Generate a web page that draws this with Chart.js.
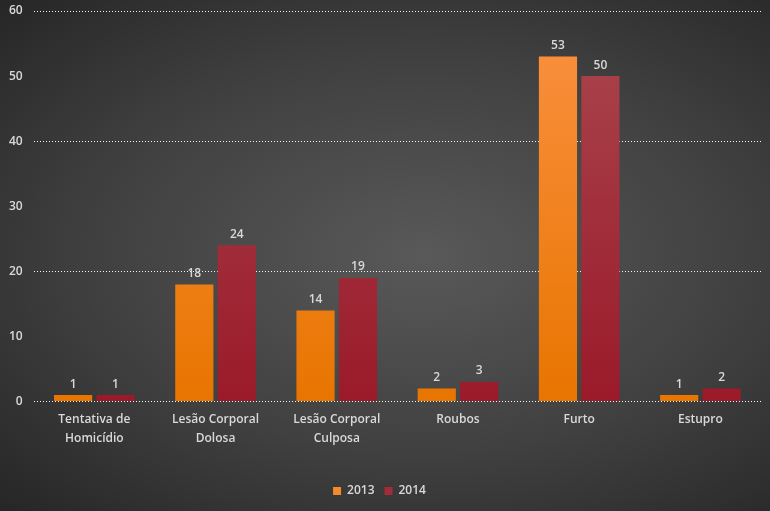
<!DOCTYPE html>
<html>
<head>
<meta charset="utf-8">
<script src="https://cdn.jsdelivr.net/npm/chart.js@4/dist/chart.umd.min.js"></script>
<style>
  html, body { margin: 0; padding: 0; }
  body {
    width: 770px; height: 511px; overflow: hidden;
    background: radial-gradient(ellipse at 55% 50%, #595959 0%, #404040 55%, #262626 100%);
  }
  #wrap { width: 770px; height: 511px; position: relative; }
</style>
</head>
<body>
<div id="wrap"><canvas id="chart"></canvas></div>
<script>
const categories = [['Tentativa de', 'Homicídio'], ['Lesão Corporal', 'Dolosa'], ['Lesão Corporal', 'Culposa'], 'Roubos', 'Furto', 'Estupro'];
const values2013 = [1, 18, 14, 2, 53, 1];
const values2014 = [1, 24, 19, 3, 50, 2];
const yTicks = [0, 10, 20, 30, 40, 50, 60];

const textColor = '#d9d9d9';
const font = { family: 'Open Sans', size: 12, weight: '600', lineHeight: 1.6 };

function barGradient(ctx, top, bottom) {
  const area = ctx.chart.chartArea;
  if (!area) return bottom;
  const g = ctx.chart.ctx.createLinearGradient(0, area.top, 0, area.bottom);
  g.addColorStop(0, top);
  g.addColorStop(1, bottom);
  return g;
}

// value labels above each bar
const valueLabels = {
  id: 'valueLabels',
  afterDatasetsDraw(chart) {
    const c = chart.ctx;
    c.save();
    c.fillStyle = textColor;
    c.font = '600 12px "Open Sans"';
    c.textAlign = 'center';
    c.textBaseline = 'bottom';
    chart.data.datasets.forEach((ds, i) => {
      chart.getDatasetMeta(i).data.forEach((bar, j) => {
        c.fillText(ds.data[j], bar.x, bar.y - 5);
      });
    });
    c.restore();
  }
};

new Chart(document.getElementById('chart'), {
  type: 'bar',
  data: {
    labels: categories,
    datasets: [
      {
        label: '2013',
        data: values2013,
        backgroundColor: ctx => barGradient(ctx, '#fb9142', '#e87500'),
        borderWidth: 0
      },
      {
        label: '2014',
        data: values2014,
        backgroundColor: ctx => barGradient(ctx, '#a9474f', '#9b1a2a'),
        borderWidth: 0
      }
    ]
  },
  options: {
    responsive: true,
    maintainAspectRatio: false,
    animation: false,
    layout: { padding: { top: 0, right: 9, left: -2, bottom: 4 } },
    categoryPercentage: 0.7,
    barPercentage: 0.9,
    scales: {
      x: {
        grid: { display: false },
        border: { display: false },
        ticks: { color: textColor, font: font, maxRotation: 0, padding: 0 },
        afterFit: axis => { axis.height += 27; }
      },
      y: {
        min: 0,
        max: 60,
        afterBuildTicks: axis => { axis.ticks = yTicks.map(v => ({ value: v })); },
        border: { display: false, dash: [1, 2] },
        grid: {
          color: ctx => (ctx.tick && ctx.tick.value % 20 === 0) ? 'rgba(255,255,255,0.95)' : 'transparent',
          lineWidth: 1,
          drawTicks: false
        },
        ticks: { color: textColor, font: { family: 'Open Sans', size: 12, weight: '600', lineHeight: 0 }, padding: 11 }
      }
    },
    plugins: {
      legend: {
        position: 'bottom',
        labels: { color: textColor, font: { family: 'Open Sans', size: 12, weight: '600' }, boxWidth: 8, boxHeight: 8, padding: 10,
          generateLabels: chart => chart.data.datasets.map((ds, i) => ({
            text: ds.label,
            fillStyle: i === 0 ? '#f58a2a' : '#a52a3a',
            strokeStyle: 'transparent',
            lineWidth: 0,
            fontColor: textColor,
            datasetIndex: i
          }))
        }
      },
      tooltip: { enabled: false }
    }
  },
  plugins: [valueLabels]
});
</script>
</body>
</html>
